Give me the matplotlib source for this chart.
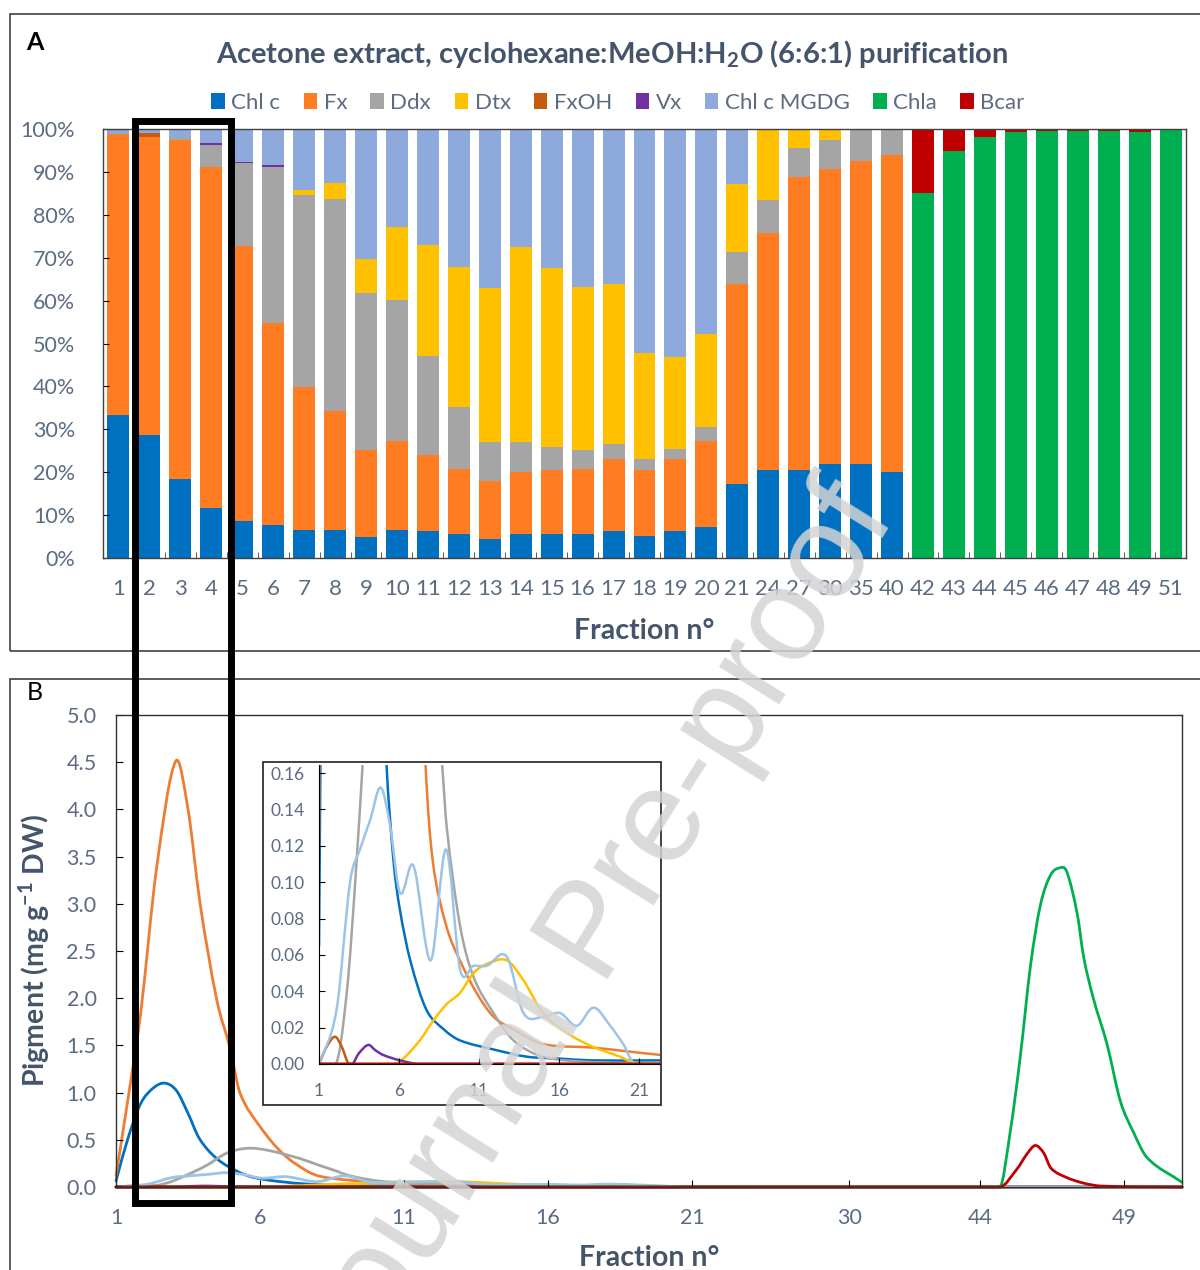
import matplotlib
matplotlib.use('Agg')
import matplotlib.pyplot as plt
import numpy as np
from matplotlib.path import Path
from matplotlib.patches import PathPatch, Rectangle
from matplotlib.ticker import FormatStrFormatter, FixedLocator

plt.rcParams['font.family'] = ['Lato', 'DejaVu Sans']

W, H = 1200, 1270

# ---------- panel A data (percent of each fraction) ----------
fractions = ['1', '2', '3', '4', '5', '6', '7', '8', '9', '10', '11', '12', '13', '14',
             '15', '16', '17', '18', '19', '20', '21', '24', '27', '30', '35', '40',
             '42', '43', '44', '45', '46', '47', '48', '49', '51']
chl_c = [33.3, 28.7, 18.3, 11.6, 8.7, 7.6, 6.6, 6.6, 4.8, 6.6, 6.2, 5.5, 4.4, 5.5, 5.5,
         5.5, 6.2, 5.1, 6.2, 7.3, 17.2, 20.5, 20.5, 21.9, 21.9, 20.1,
         0, 0, 0, 0, 0, 0, 0, 0, 0]
fx = [65.5, 69.5, 79.1, 79.5, 64.1, 47.1, 33.2, 27.7, 20.4, 20.7, 17.9, 15.3, 13.5, 14.6,
      15.0, 15.3, 16.8, 15.4, 16.8, 19.9, 46.7, 55.2, 68.4, 68.8, 70.6, 73.8,
      0, 0, 0, 0, 0, 0, 0, 0, 0]
ddx = [0, 0, 0.7, 5.2, 19.2, 36.4, 44.7, 49.3, 36.6, 32.8, 23.1, 14.3, 9.2, 7.0,
       5.3, 4.3, 3.5, 2.5, 2.4, 3.3, 7.5, 7.8, 6.7, 6.7, 7.5, 6.1,
       0, 0, 0, 0, 0, 0, 0, 0, 0]
dtx = [0, 0, 0, 0, 0, 0, 1.2, 3.9, 7.9, 17.1, 25.7, 32.8, 35.8, 45.4,
       41.7, 38.1, 37.4, 24.9, 21.5, 21.7, 15.8, 16.5, 4.4, 2.6, 0, 0,
       0, 0, 0, 0, 0, 0, 0, 0, 0]
fxoh = [0, 0.8, 0, 0, 0, 0, 0, 0, 0, 0, 0, 0, 0, 0, 0, 0, 0, 0, 0, 0, 0, 0, 0, 0, 0, 0,
        0, 0, 0, 0, 0, 0, 0, 0, 0]
vx = [0, 0, 0, 0.4, 0.4, 0.4, 0, 0, 0, 0, 0, 0, 0, 0, 0, 0, 0, 0, 0, 0, 0, 0, 0, 0, 0, 0,
      0, 0, 0, 0, 0, 0, 0, 0, 0]
mgdg = [1.2, 1.0, 1.9, 3.3, 7.6, 8.5, 14.3, 12.5, 30.3, 22.8, 27.1, 32.1, 37.1, 27.5,
        32.5, 36.8, 36.1, 52.1, 53.1, 47.8, 12.8, 0, 0, 0, 0, 0,
        0, 0, 0, 0, 0, 0, 0, 0, 0]
chla = [0, 0, 0, 0, 0, 0, 0, 0, 0, 0, 0, 0, 0, 0, 0, 0, 0, 0, 0, 0, 0, 0, 0, 0, 0, 0,
        85.0, 94.9, 98.2, 99.3, 99.6, 99.6, 99.6, 99.3, 100]
bcar = [0, 0, 0, 0, 0, 0, 0, 0, 0, 0, 0, 0, 0, 0, 0, 0, 0, 0, 0, 0, 0, 0, 0, 0, 0, 0,
        15.0, 5.1, 1.8, 0.7, 0.4, 0.4, 0.4, 0.7, 0]

pigments = ['Chl c', 'Fx', 'Ddx', 'Dtx', 'FxOH', 'Vx', 'Chl c MGDG', 'Chla', 'Bcar']
bar_colors = ['#0070C0', '#FF7C22', '#A5A5A5', '#FFC000', '#C55A11', '#7030A0',
              '#8EA9DB', '#00B050', '#C00000']
line_colors = ['#0070C0', '#ED7D31', '#A5A5A5', '#FFC000', '#C55A11', '#7030A0',
               '#9DC3E6', '#00B050', '#C00000']

# ---------- panel B data (mg g-1 DW), x = position on the fraction axis ----------
b_ticks = [0, 5, 10, 15, 20, 25.45, 30, 35]
b_ticklabels = ['1', '6', '11', '16', '21', '30', '44', '49']

chlc_x = [0, 0.4, 0.85, 1.3, 1.7, 2.1, 2.5, 2.9, 3.5, 4.2, 4.65, 5.05, 5.7, 6.7, 7.8,
          8.8, 10.9, 13, 15, 17, 21.3, 25, 30, 37]
chlc_y = [0.065, 0.5, 0.88, 1.05, 1.1, 1.02, 0.78, 0.51, 0.3, 0.167, 0.112, 0.085, 0.057,
          0.030, 0.019, 0.013, 0.008, 0.004, 0.003, 0.002, 0.002, 0, 0, 0]
fx_x = [0, 0.45, 0.86, 1.41, 2.07, 2.5, 2.92, 3.5, 3.96, 4.3, 5.0, 5.8, 6.64, 7.1, 7.95,
        8.8, 9.85, 10.9, 12.15, 14, 17.1, 19.2, 21.3, 25, 30, 37]
fx_y = [0.12, 1.0, 1.85, 3.38, 4.51, 4.0, 3.0, 1.98, 1.47, 1.0, 0.64, 0.35, 0.167, 0.112,
        0.076, 0.057, 0.039, 0.026, 0.019, 0.011, 0.009, 0.007, 0.005, 0.002, 0, 0]
ddx_x = [0, 1.0, 1.73, 2.35, 3.15, 3.85, 4.55, 5.25, 6.4, 7.0, 7.67, 7.98, 8.81, 9.65,
         10.9, 12.15, 14, 17.1, 21, 30, 37]
ddx_y = [0, 0, 0.039, 0.112, 0.23, 0.36, 0.41, 0.39, 0.30, 0.235, 0.167, 0.13, 0.076,
         0.048, 0.028, 0.013, 0.004, 0.001, 0, 0, 0]
dtx_x = [0, 4.65, 5.27, 6.3, 7.15, 7.98, 8.8, 9.65, 10.48, 11.73, 12.77, 14.0, 15.5, 17.1,
         18.8, 19.6, 21, 30, 37]
dtx_y = [0, 0, 0.003, 0.013, 0.024, 0.033, 0.039, 0.05, 0.055, 0.057, 0.046, 0.028, 0.017,
         0.0095, 0.004, 0.001, 0, 0, 0]
fxoh_x = [0, 0.48, 1.0, 1.42, 1.9, 5, 37]
fxoh_y = [0, 0.0095, 0.015, 0.0095, 0, 0, 0]
vx_x = [0, 2.04, 2.5, 3.08, 3.5, 4.0, 5.06, 6.3, 37]
vx_y = [0, 0, 0.006, 0.0105, 0.0077, 0.005, 0.002, 0, 0]
mgdg_x = [0, 1.1, 1.94, 2.56, 3.19, 3.85, 4.44, 5.06, 5.9, 6.98, 7.94, 8.81, 9.65, 10.48,
          11.73, 12.77, 14.02, 15.06, 16.1, 17.15, 18.19, 19.0, 19.75, 21.3, 30, 37]
mgdg_y = [0, 0.030, 0.10, 0.118, 0.134, 0.152, 0.131, 0.094, 0.109, 0.057, 0.118, 0.052,
          0.054, 0.054, 0.059, 0.028, 0.026, 0.028, 0.021, 0.031, 0.021, 0.011, 0, 0, 0, 0]
chla_x = [0, 30.0, 30.67, 31.04, 31.39, 31.74, 32.08, 32.43, 32.75, 33.0, 33.36, 33.59,
          33.93, 34.4, 34.86, 35.3, 35.79, 37.0]
chla_y = [0, 0, 0, 0.59, 1.39, 2.34, 2.98, 3.30, 3.38, 3.34, 2.90, 2.43, 1.99, 1.51,
          0.91, 0.59, 0.31, 0.05]
bcar_x = [0, 30.0, 30.67, 31.27, 31.62, 31.91, 32.2, 32.45, 33.0, 33.6, 34.2, 37]
bcar_y = [0, 0, 0, 0.19, 0.35, 0.44, 0.36, 0.2, 0.1, 0.04, 0.01, 0]

curves = [(chlc_x, chlc_y), (fx_x, fx_y), (ddx_x, ddx_y), (dtx_x, dtx_y), (fxoh_x, fxoh_y),
          (vx_x, vx_y), (mgdg_x, mgdg_y), (chla_x, chla_y), (bcar_x, bcar_y)]

TXT = '#44546A'
TICK = '#5B6B82'


def fig_rect(x0, y0, x1, y1):
    return [x0 / W, 1 - y1 / H, (x1 - x0) / W, (y1 - y0) / H]


def smooth_path(x, y):
    # cubic Hermite segments drawn as Bezier curves (smoothed line, no overshoot at flat parts)
    x = np.asarray(x, float)
    y = np.asarray(y, float)
    n = len(x)
    m = np.zeros(n)
    for i in range(n):
        a, b = max(i - 1, 0), min(i + 1, n - 1)
        if 0 < i < n - 1 and (y[i] - y[a]) * (y[b] - y[i]) <= 0 and min(y[a], y[i], y[b]) == 0:
            m[i] = 0.0
        else:
            m[i] = (y[b] - y[a]) / (x[b] - x[a])
    verts = [(x[0], y[0])]
    codes = [Path.MOVETO]
    for i in range(n - 1):
        h = x[i + 1] - x[i]
        verts += [(x[i] + h / 3, y[i] + m[i] * h / 3),
                  (x[i + 1] - h / 3, y[i + 1] - m[i + 1] * h / 3),
                  (x[i + 1], y[i + 1])]
        codes += [Path.CURVE4] * 3
    return Path(verts, codes)


fig = plt.figure(figsize=(W / 100, H / 100), dpi=100)

# panel frames
fig.patches.append(Rectangle((10 / W, 1 - 651 / H), 1.2, (651 - 14) / H, transform=fig.transFigure,
                             fill=False, edgecolor='#404040', lw=1.2))
fig.patches.append(Rectangle((10 / W, 1 - 1300 / H), 1.2, (1300 - 679) / H, transform=fig.transFigure,
                             fill=False, edgecolor='#404040', lw=1.2))

# ---------- panel A ----------
ax = fig.add_axes(fig_rect(103, 129, 1186, 558))
pos = np.arange(len(fractions))
series = [chl_c, fx, ddx, dtx, fxoh, vx, mgdg, chla, bcar]
bottom = np.zeros(len(fractions))
for name, vals, col in zip(pigments, series, bar_colors):
    ax.bar(pos, vals, width=0.71, bottom=bottom, color=col, label=name, linewidth=0)
    bottom += np.array(vals)
ax.set_xlim(-0.5, len(fractions) - 0.5)
ax.set_ylim(0, 100)
ax.set_yticks(np.arange(0, 101, 10))
ax.set_yticklabels([f'{v}%' for v in range(0, 101, 10)])
ax.set_xticks(pos)
ax.set_xticklabels(fractions)
ax.xaxis.set_minor_locator(FixedLocator(pos[:-1] + 0.5))
ax.tick_params(axis='x', which='major', length=0, labelsize=16, colors=TICK, pad=15)
ax.tick_params(axis='x', which='minor', direction='in', length=4, color='#404040')
ax.tick_params(axis='y', direction='in', length=4, labelsize=15.5, labelcolor=TICK, pad=20)
for s in ax.spines.values():
    s.set_color('#404040')
    s.set_linewidth(1.0)
ax.set_xlabel('Fraction n°', fontsize=20.5, fontweight='bold', color=TXT, labelpad=14)

fig.text(612 / W, 1 - 54 / H,
         'Acetone extract, cyclohexane:MeOH:H$_\\mathregular{2}$O (6:6:1) purification',
         ha='center', va='center', fontsize=21, fontweight='bold', color=TXT)
fig.legend(*ax.get_legend_handles_labels(), loc='center', bbox_to_anchor=(618 / W, 1 - 103 / H),
           ncol=9, frameon=False, fontsize=16, handlelength=0.6, handleheight=0.7,
           handletextpad=0.3, columnspacing=1.05, labelcolor=TICK)
fig.text(35 / W, 1 - 42 / H, 'A', fontsize=18, fontweight='bold', ha='center', va='center')
fig.text(35 / W, 1 - 692 / H, 'B', fontsize=18, ha='center', va='center')

# ---------- panel B ----------
bx = fig.add_axes(fig_rect(116, 715, 1182, 1187))
for (cx, cy), col in zip(curves, line_colors):
    bx.add_patch(PathPatch(smooth_path(cx, cy), fill=False, edgecolor=col, lw=2.0,
                           capstyle='round', joinstyle='round', clip_on=False))
bx.set_xlim(0, 37)
bx.set_ylim(0, 5)
bx.set_yticks(np.arange(0, 5.01, 0.5))
bx.yaxis.set_major_formatter(FormatStrFormatter('%.1f'))
bx.set_xticks(b_ticks)
bx.set_xticklabels(b_ticklabels)
for lab in bx.get_xticklabels()[5:]:
    lab.set_color('#404040')
bx.tick_params(axis='x', direction='in', length=5, labelsize=15.5, labelcolor=TICK, pad=15)
bx.tick_params(axis='y', direction='in', length=5, labelsize=15.5, labelcolor=TICK, pad=14)
for s in bx.spines.values():
    s.set_color('#303030')
    s.set_linewidth(1.0)
bx.set_xlabel('Fraction n°', fontsize=20.5, fontweight='bold', color=TXT, labelpad=12)
bx.set_ylabel('Pigment (mg g$^\\mathregular{-1}$ DW)', fontsize=20.5, fontweight='bold', color=TXT,
              labelpad=10)

# inset
fig.patches.append(Rectangle((263 / W, 1 - 1105 / H), (661 - 263) / W, (1105 - 762) / H,
                             transform=fig.transFigure, fill=True, facecolor='white',
                             edgecolor='#202020', lw=1.2, zorder=2))
ix = fig.add_axes(fig_rect(319, 765, 660, 1064), zorder=3)
for (cx, cy), col in zip(curves, line_colors):
    ix.add_patch(PathPatch(smooth_path(cx, cy), fill=False, edgecolor=col, lw=1.8,
                           capstyle='round', joinstyle='round'))
ix.set_xlim(0, 21.3)
ix.set_ylim(0, 0.1644)
ix.set_yticks(np.arange(0, 0.161, 0.02))
ix.yaxis.set_major_formatter(FormatStrFormatter('%.2f'))
ix.set_xticks([0, 5, 10, 15, 20])
ix.set_xticklabels(['1', '6', '11', '16', '21'])
ix.tick_params(axis='both', direction='in', length=4, labelsize=12.5, labelcolor=TICK)
ix.tick_params(axis='x', pad=14)
ix.tick_params(axis='y', pad=10)
ix.spines['top'].set_visible(False)
ix.spines['right'].set_visible(False)
ix.patch.set_alpha(0)

# highlight box spanning both panels
fig.patches.append(Rectangle((135 / W, 1 - 1203 / H), (230.5 - 135) / W, (1203 - 121) / H,
                             transform=fig.transFigure, fill=False, edgecolor='black', lw=5,
                             zorder=10))

# watermark
fig.text(595 / W, 1 - 935 / H, 'Journal Pre-proof', fontsize=96, color='#d4d4d4',
         family='Liberation Sans', rotation=58, ha='center', va='center', alpha=0.85, zorder=20)

fig.savefig('out.png', dpi=100)
